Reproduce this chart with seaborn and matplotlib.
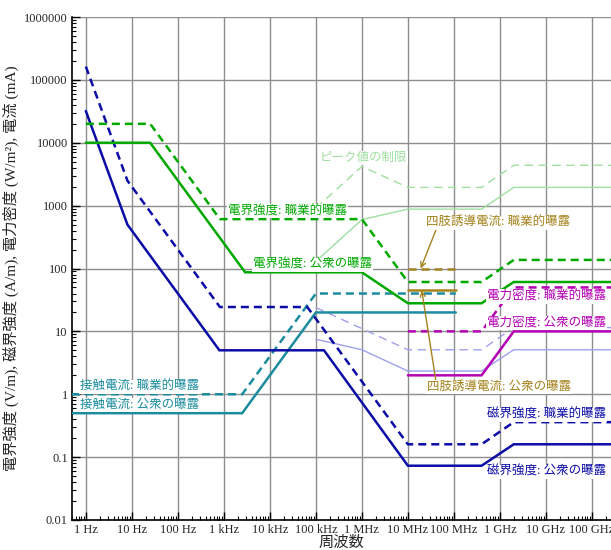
import matplotlib
matplotlib.use("Agg")
import matplotlib.pyplot as plt
import matplotlib.ticker as mticker
import numpy as np
import pandas as pd
import seaborn as sns

# ---------------- data ----------------
e_occ_f = [1, 25, 820, 1e6, 1e7, 4e8, 2e9, 3e11]
e_occ_v = [20000, 20000, 610, 610, 61, 61, 137, 137]
e_pub_f = [1, 25, 2900, 1e6, 1e7, 4e8, 2e9, 3e11]
e_pub_v = [10000, 10000, 87, 87, 28, 28, 61, 61]
h_occ_f = [1, 8, 820, 65000, 1e7, 4e8, 2e9, 3e11]
h_occ_v = [163000, 2500, 24.4, 24.4, 0.16, 0.16, 0.36, 0.36]
h_pub_f = [1, 8, 800, 150000, 1e7, 4e8, 2e9, 3e11]
h_pub_v = [32000, 500, 5, 5, 0.073, 0.073, 0.16, 0.16]
s_occ_f = [1e7, 4e8, 2e9, 3e11]
s_occ_v = [10, 10, 50, 50]
s_pub_f = [1e7, 4e8, 2e9, 3e11]
s_pub_v = [2, 2, 10, 10]
c_occ_f = [0.5, 2500, 1e5, 1.1e8]
c_occ_v = [1, 1, 40, 40]
c_pub_f = [0.5, 2500, 1e5, 1.1e8]
c_pub_v = [0.5, 0.5, 20, 20]
limb_occ_f = [1e7, 1.1e8]
limb_occ_v = [100, 100]
limb_pub_f = [1e7, 1.1e8]
limb_pub_v = [45, 45]
pe_occ_f = [1e5, 1e6, 1e7, 4e8, 2e9, 3e11]
pe_occ_v = [915, 4200, 1950, 1950, 4380, 4380]
pe_pub_f = [1e5, 1e6, 1e7, 4e8, 2e9, 3e11]
pe_pub_v = [130, 600, 880, 880, 1950, 1950]
ph_occ_f = [1e5, 1e7, 4e8, 2e9, 3e11]
ph_occ_v = [24, 5.1, 5.1, 11.5, 11.5]
ph_pub_f = [1e5, 1e6, 1e7, 4e8, 2e9, 3e11]
ph_pub_v = [7.5, 5.1, 2.34, 2.34, 5.1, 5.1]

x_ticks = [1, 10, 100, 1e3, 1e4, 1e5, 1e6, 1e7, 1e8, 1e9, 1e10, 1e11]
x_ticklabels = ["1 Hz", "10 Hz", "100 Hz", "1 kHz", "10 kHz", "100 kHz",
                "1 MHz", "10 MHz", "100 MHz", "1 GHz", "10 GHz", "100 GHz"]
y_ticks = [0.01, 0.1, 1, 10, 100, 1000, 10000, 100000, 1000000]
y_ticklabels = ["0.01", "0.1", "1", "10", "100", "1000", "10000", "100000", "1000000"]

GREEN = "#00a800"
LGREEN = "#9fdf9f"
BLUE = "#0c0ca6"
LBLUE = "#a0a0ee"
TEAL = "#1b8c9e"
MAG = "#b400b4"
GOLD = "#a4821c"

series = [
    ("pe_pub", pe_pub_f, pe_pub_v, LGREEN, False, 1.0),
    ("pe_occ", pe_occ_f, pe_occ_v, LGREEN, True, 1.0),
    ("ph_pub", ph_pub_f, ph_pub_v, LBLUE, False, 1.0),
    ("ph_occ", ph_occ_f, ph_occ_v, LBLUE, True, 1.0),
    ("c_pub", c_pub_f, c_pub_v, TEAL, False, 1.8),
    ("c_occ", c_occ_f, c_occ_v, TEAL, True, 1.8),
    ("h_pub", h_pub_f, h_pub_v, BLUE, False, 1.8),
    ("h_occ", h_occ_f, h_occ_v, BLUE, True, 1.8),
    ("e_pub", e_pub_f, e_pub_v, GREEN, False, 1.8),
    ("e_occ", e_occ_f, e_occ_v, GREEN, True, 1.8),
    ("s_pub", s_pub_f, s_pub_v, MAG, False, 1.8),
    ("s_occ", s_occ_f, s_occ_v, MAG, True, 1.8),
    ("limb_pub", limb_pub_f, limb_pub_v, GOLD, False, 1.8),
    ("limb_occ", limb_occ_f, limb_occ_v, GOLD, True, 1.8),
]

sns.set_theme(style="white")
plt.rcParams["font.family"] = ["Liberation Serif", "Noto Sans CJK JP"]
plt.rcParams["axes.unicode_minus"] = False

fig = plt.figure(figsize=(6.11, 5.5), dpi=100)
ax = fig.add_axes([72 / 611, 30 / 550, 1 - 72 / 611, 503 / 550])

for name, f, v, col, dashed, lw in series:
    df = pd.DataFrame({"freq": f, "value": v})
    sns.lineplot(data=df, x="freq", y="value", ax=ax, color=col, lw=lw,
                 estimator=None, sort=False, zorder=3)
    line = ax.lines[-1]
    if dashed:
        if lw > 1.5:
            line.set_dashes((3.2, 2.0))
        else:
            line.set_dashes((6, 4))
    line.set_solid_joinstyle("miter")
    line.set_dash_joinstyle("miter")

ax.set_xscale("log")
ax.set_yscale("log")
ax.set_xlim(0.5, 2.6e11)
ax.set_ylim(0.01, 1e6)

ax.xaxis.set_major_locator(mticker.FixedLocator(x_ticks))
ax.xaxis.set_major_formatter(mticker.FixedFormatter(x_ticklabels))
ax.yaxis.set_major_locator(mticker.FixedLocator(y_ticks))
ax.yaxis.set_major_formatter(mticker.FixedFormatter(y_ticklabels))
ax.xaxis.set_minor_locator(mticker.LogLocator(base=10, subs=np.arange(2, 10), numticks=30))
ax.yaxis.set_minor_locator(mticker.LogLocator(base=10, subs=np.arange(2, 10), numticks=30))
ax.xaxis.set_minor_formatter(mticker.NullFormatter())
ax.yaxis.set_minor_formatter(mticker.NullFormatter())

ax.tick_params(axis="both", which="major", direction="in", length=6, width=1,
               color="black", labelsize=9, pad=3, bottom=True, left=True)
ax.tick_params(axis="both", which="minor", direction="in", length=3, width=0.8,
               color="black", bottom=True, left=True)
ax.grid(True, which="major", color="#8e8e8e", lw=1.0, zorder=1)
ax.set_axisbelow(True)
for s in ["top", "right"]:
    ax.spines[s].set_visible(False)
for s in ["left", "bottom"]:
    ax.spines[s].set_color("black")
    ax.spines[s].set_linewidth(1.2)

ax.set_xlabel("周波数", fontsize=11, labelpad=0)
ax.set_ylabel("電界強度 (V/m), 磁界強度 (A/m), 電力密度 (W/m²), 電流 (mA)",
              fontsize=11, labelpad=4)

bbox = dict(boxstyle="square,pad=0.08", fc="white", ec="none")
labels = [
    ("電界強度: 職業的曝露", 1.22e3, 820, GREEN),
    ("電界強度: 公衆の曝露", 4.27e3, 114, GREEN),
    ("ピーク値の制限", 1.22e5, 5730, LGREEN),
    ("電力密度: 職業的曝露", 5.2e8, 35.7, MAG),
    ("電力密度: 公衆の曝露", 5.2e8, 13.6, MAG),
    ("磁界強度: 職業的曝露", 5.2e8, 0.47, BLUE),
    ("磁界強度: 公衆の曝露", 5.2e8, 0.058, BLUE),
    ("接触電流: 職業的曝露", 0.74, 1.32, TEAL),
    ("接触電流: 公衆の曝露", 0.74, 0.68, TEAL),
]
for txt, x, y, col in labels:
    ax.text(x, y, txt, color=col, fontsize=9, ha="left", va="center",
            bbox=bbox, zorder=6)

ax.annotate("四肢誘導電流: 職業的曝露", xy=(1.9e7, 100), xytext=(9.3e8, 537),
            ha="center", va="center", color=GOLD, fontsize=9, bbox=bbox, zorder=6,
            arrowprops=dict(arrowstyle="->", color=GOLD, lw=1.0, relpos=(0.07, 0.0),
                            shrinkA=0, shrinkB=0))
ax.annotate("四肢誘導電流: 公衆の曝露", xy=(2.0e7, 45), xytext=(9.7e8, 1.32),
            ha="center", va="center", color=GOLD, fontsize=9, bbox=bbox, zorder=6,
            arrowprops=dict(arrowstyle="->", color=GOLD, lw=1.0, relpos=(0.06, 1.0),
                            shrinkA=0, shrinkB=0))

fig.savefig("out.png", dpi=100)
